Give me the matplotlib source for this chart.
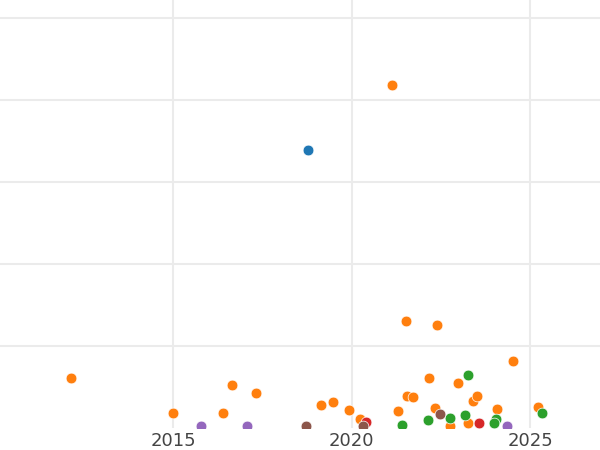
import matplotlib
matplotlib.use("Agg")
import matplotlib.pyplot as plt

# year / value pairs for each group
orange_year = [2012.14, 2014.99, 2016.39, 2016.65, 2017.32, 2019.13, 2019.47, 2019.93,
               2020.24, 2021.13, 2021.29, 2021.53, 2021.55, 2021.73, 2022.18, 2022.35,
               2022.39, 2022.77, 2022.97, 2023.25, 2023.39, 2023.52, 2024.08, 2024.53,
               2025.22]
orange_val = [12.2, 3.6, 3.7, 10.4, 8.5, 5.6, 6.3, 4.3,
              2.1, 83.6, 4.1, 26.1, 7.8, 7.5, 12.1, 4.9,
              25.1, 0.6, 10.9, 1.1, 6.6, 7.8, 4.6, 16.4,
              5.0]

blue_year = [2018.77]
blue_val = [67.9]

green_year = [2021.41, 2022.15, 2022.77, 2023.17, 2023.26, 2024.06, 2024.0, 2025.34]
green_val = [0.8, 1.9, 2.4, 3.1, 13.0, 2.1, 1.1, 3.6]

red_year = [2020.41, 2023.56]
red_val = [1.4, 1.3]

purple_year = [2015.78, 2017.06, 2024.35]
purple_val = [0.4, 0.5, 0.5]

brown_year = [2018.73, 2020.32, 2022.49]
brown_val = [0.4, 0.4, 3.4]

groups = [
    (blue_year, blue_val, "#1f77b4"),
    (orange_year, orange_val, "#ff7f0e"),
    (green_year, green_val, "#2ca02c"),
    (red_year, red_val, "#d62728"),
    (purple_year, purple_val, "#9467bd"),
    (brown_year, brown_val, "#8c564b"),
]

fig = plt.figure(figsize=(6, 4.5), dpi=100)
ax = fig.add_axes([0, 22 / 450, 1, 428 / 450])

for yrs, vals, col in groups:
    ax.scatter(yrs, vals, s=60, color=col, edgecolor="white", linewidth=0.5, zorder=3)

ax.set_xlim(2010.15, 2026.96)
ax.set_ylim(0, 104.39)
ax.set_xticks([2015, 2020, 2025])
ax.set_yticks([20, 40, 60, 80, 100])
ax.set_yticklabels([])
ax.tick_params(length=0, labelsize=13, labelcolor="#444444", pad=3)
ax.grid(True, color="#ebebeb", linewidth=1.5)
ax.set_axisbelow(True)
for s in ax.spines.values():
    s.set_visible(False)

fig.savefig("out.png", dpi=100)
